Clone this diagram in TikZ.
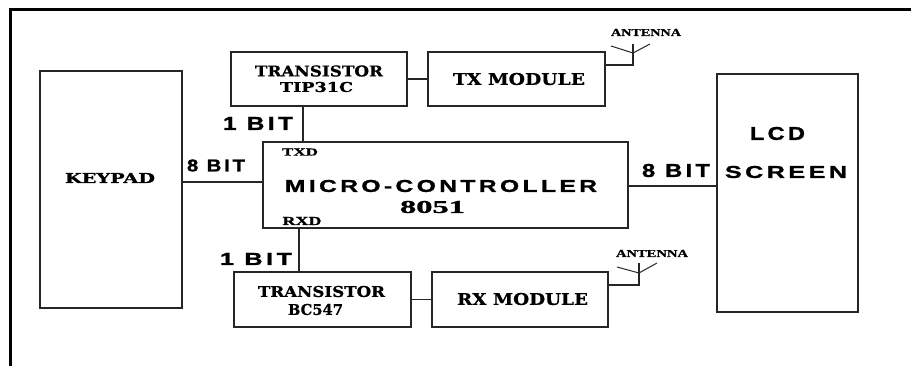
\documentclass[tikz,border=0pt]{standalone}
\usepackage{fontspec}
\usepackage{graphicx}
\newfontfamily\widesans[LetterSpace=14, BoldFeatures={FakeBold=1.2}]{Liberation Sans}
\newfontfamily\slabfont[BoldFeatures={FakeBold=0.8}]{DejaVu Serif}
\newfontfamily\condserif[BoldFeatures={FakeBold=1}]{Liberation Serif}
\newcommand\fitto[3]{\resizebox{#1pt}{#2pt}{#3}}
\tikzset{
  box/.style={draw=black!85, line width=1.5pt, inner sep=0pt, rectangle},
  wire/.style={draw=black!85, line width=1.4pt},
  lbl/.style={inner sep=0pt, anchor=center, text=black},
}
\begin{document}
\begin{tikzpicture}[x=1pt,y=-1pt]
\useasboundingbox (0,0) rectangle (911,366);
\fill[white] (0,0) rectangle (911,366);
% outer frame
\draw[line width=3pt, black] (10.5,366) -- (10.5,9.5) -- (911,9.5);

% boxes
\node[box, minimum width=142pt, minimum height=237pt] (keypad) at (111,189.5) {};
\node[box, minimum width=365pt, minimum height=86pt] (micro) at (445.5,185) {};
\node[box, minimum width=176pt, minimum height=54pt] (t1) at (319,79) {};
\node[box, minimum width=177pt, minimum height=54pt] (tx) at (516.5,79) {};
\node[box, minimum width=177pt, minimum height=55pt] (t2) at (322.5,299.5) {};
\node[box, minimum width=176pt, minimum height=55pt] (rx) at (520,299.5) {};
\node[box, minimum width=141pt, minimum height=238pt] (lcd) at (787.5,193) {};

% texts
\node[lbl] (tkeypad) at (110,178) {\fitto{90}{10}{\slabfont\bfseries KEYPAD}};
\node[lbl] (t8l) at (216,165.5) {\fitto{58}{12}{\widesans\bfseries 8 BIT}};
\node[lbl] (tmc) at (441,186) {\fitto{312}{12}{\widesans\bfseries MICRO-CONTROLLER}};
\node[lbl] (t8051) at (432.5,207) {\fitto{65}{12}{\condserif\bfseries 8051}};
\node[lbl] (ttxd) at (300,152) {\fitto{36}{7}{\condserif\bfseries TXD}};
\node[lbl] (trxd) at (302,221) {\fitto{39}{8}{\condserif\bfseries RXD}};
\node[lbl] (t1bit) at (258,123.5) {\fitto{70}{13}{\widesans\bfseries 1 BIT}};
\node[lbl] (ttr1) at (319,71) {\fitto{128}{11}{\slabfont\bfseries TRANSISTOR}};
\node[lbl] (ttip) at (316.5,87) {\fitto{73}{10}{\slabfont\bfseries TIP31C}};
\node[lbl] (ttxm) at (519,79) {\fitto{132}{12}{\slabfont\bfseries TX MODULE}};
\node[lbl] (t1bitb) at (256,259) {\fitto{72}{12}{\widesans\bfseries 1 BIT}};
\node[lbl] (ttr2) at (321.5,291.5) {\fitto{127}{11}{\slabfont\bfseries TRANSISTOR}};
\node[lbl] (tbc) at (315.5,309.5) {\fitto{55}{11}{\slabfont\bfseries BC547}};
\node[lbl] (trxm) at (522.5,299) {\fitto{131}{12}{\slabfont\bfseries RX MODULE}};
\node[lbl] (t8r) at (676,170.5) {\fitto{68}{13}{\widesans\bfseries 8 BIT}};
\node[lbl] (tlcd) at (777.5,133.5) {\fitto{55}{13}{\widesans\bfseries LCD}};
\node[lbl] (tscr) at (786,172) {\fitto{122}{12}{\widesans\bfseries SCREEN}};
\node[lbl] (tant1) at (646,32.5) {\fitto{70}{7}{\condserif\bfseries ANTENNA}};
\node[lbl] (tant2) at (652,253.5) {\fitto{72}{7}{\condserif\bfseries ANTENNA}};

% helper coordinates
\coordinate (lk) at (0,182);
\coordinate (rl) at (0,186);
\coordinate (vt) at (303,0);
\coordinate (vb) at (299,0);
\coordinate (a1y) at (0,65);
\coordinate (a1top) at (633,44);
\coordinate (a1) at (633,53);
\coordinate (a1l) at (611,46);
\coordinate (a1r) at (650,44);
\coordinate (a2y) at (0,285);
\coordinate (a2top) at (639,263);
\coordinate (a2) at (639,273);
\coordinate (a2l) at (617,267);
\coordinate (a2r) at (657,263);

% connectors
\draw[wire] (keypad.east |- lk) -- (micro.west |- lk);
\draw[wire] (micro.east |- rl) -- (lcd.west |- rl);
\draw[wire] (micro.north -| vt) -- (t1.south -| vt);
\draw[wire] (micro.south -| vb) -- (t2.north -| vb);
\draw[wire] (t1) -- (tx);
\draw[wire] (t2) -- (rx);
% antennas
\draw[wire] (tx.east |- a1y) -| (a1top);
\draw[wire, line width=1pt] (a1l) -- (a1) -- (a1r);
\draw[wire] (rx.east |- a2y) -| (a2top);
\draw[wire, line width=1pt] (a2l) -- (a2) -- (a2r);
\end{tikzpicture}
\end{document}
